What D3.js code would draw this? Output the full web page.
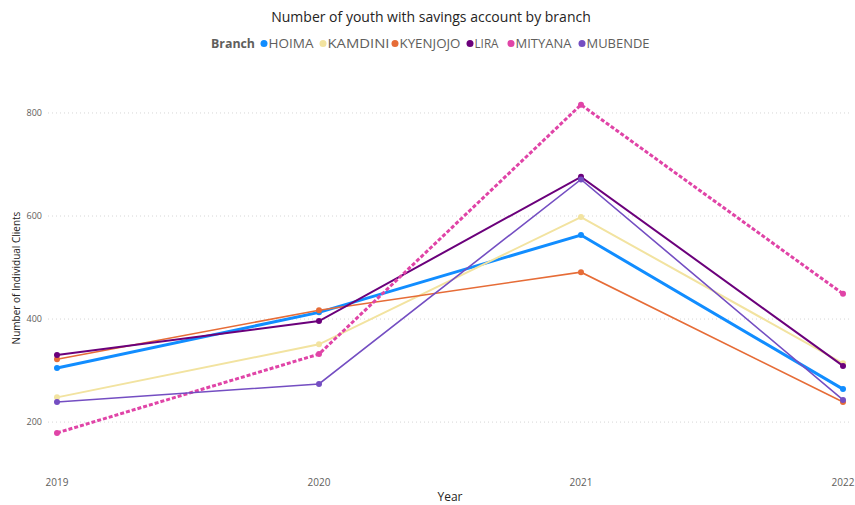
<!DOCTYPE html>
<html>
<head>
<meta charset="utf-8">
<script src="https://cdn.jsdelivr.net/npm/d3@7"></script>
<style>
  body { margin: 0; background: #fff; }
  text { font-family: "Open Sans", "Segoe UI", sans-serif; }
</style>
</head>
<body>
<svg id="chart" width="855" height="505"></svg>
<script>
var width = 855,
    height = 505;

// data
const years = [2019, 2020, 2021, 2022];
const branches = ["HOIMA", "KAMDINI", "KYENJOJO", "LIRA", "MITYANA", "MUBENDE"];
const hoima = [305, 413, 563, 264];
const kamdini = [248, 351, 598, 314];
const kyenjojo = [322, 417, 491, 239];
const lira = [330, 396, 676, 309];
const mityana = [179, 332, 816, 449];
const mubende = [239, 274, 671, 243];
const yTicks = [200, 400, 600, 800];

const colors = ["#118DFF", "#F2E3A0", "#E66C37", "#6B007B", "#E044A7", "#744EC2"];
const widths = [3, 2, 1.6, 2, 3, 1.6];

var series = [hoima, kamdini, kyenjojo, lira, mityana, mubende].map(function (vals, i) {
    return { name: branches[i], values: vals, color: colors[i], width: widths[i] };
});

var svg = d3.select("#chart");

var x = d3.scalePoint().domain(years).range([57, 843]);
var y = d3.scaleLinear().domain([107, 864]).range([470, 80]);

// title
svg.append("text")
    .attr("x", 431).attr("y", 22)
    .attr("text-anchor", "middle")
    .attr("font-size", 14)
    .attr("fill", "#252423")
    .text("Number of youth with savings account by branch");

// legend - dot positions / label widths measured on the reference
var legend = svg.append("g").attr("transform", "translate(0,48)");
legend.append("text")
    .attr("x", 211).attr("y", 0)
    .attr("font-size", 12.5)
    .attr("font-weight", "bold")
    .attr("fill", "#605E5C")
    .attr("textLength", 44)
    .attr("lengthAdjust", "spacingAndGlyphs")
    .text("Branch");
var dotX = [264, 323, 395, 470, 511, 582];
var itemW = [45, 62, 61, 24, 56, 63];
series.forEach(function (s, i) {
    legend.append("circle")
        .attr("cx", dotX[i]).attr("cy", -4.5).attr("r", 3.5)
        .attr("fill", s.color);
    legend.append("text")
        .attr("x", dotX[i] + 4.5).attr("y", 0)
        .attr("font-size", 12.5)
        .attr("fill", "#605E5C")
        .attr("textLength", itemW[i])
        .attr("lengthAdjust", "spacingAndGlyphs")
        .text(s.name);
});

// gridlines + y ticks
var grid = svg.append("g");
yTicks.forEach(function (t) {
    grid.append("line")
        .attr("x1", 48).attr("x2", 852)
        .attr("y1", y(t)).attr("y2", y(t))
        .attr("stroke", "#d6d6d6")
        .attr("stroke-width", 1)
        .attr("stroke-dasharray", "1,3");
    grid.append("text")
        .attr("x", 42).attr("y", y(t) + 3)
        .attr("text-anchor", "end")
        .attr("font-size", 9)
        .attr("fill", "#605E5C")
        .text(t);
});

// x tick labels
years.forEach(function (yr) {
    svg.append("text")
        .attr("x", x(yr)).attr("y", 486)
        .attr("text-anchor", "middle")
        .attr("font-size", 10)
        .attr("fill", "#605E5C")
        .text(yr);
});

// axis titles
svg.append("text")
    .attr("x", 450).attr("y", 501)
    .attr("text-anchor", "middle")
    .attr("font-size", 12)
    .attr("fill", "#252423")
    .text("Year");
svg.append("text")
    .attr("transform", "translate(20,278) rotate(-90)")
    .attr("text-anchor", "middle")
    .attr("font-size", 10)
    .attr("fill", "#252423")
    .text("Number of Individual Clients");

// lines
var line = d3.line()
    .x(function (d, i) { return x(years[i]); })
    .y(function (d) { return y(d); });

var lines = svg.append("g");
series.forEach(function (s) {
    lines.append("path")
        .attr("d", line(s.values))
        .attr("fill", "none")
        .attr("stroke", s.color)
        .attr("stroke-width", s.width)
        .attr("stroke-dasharray", s.name == "MITYANA" ? "4,2" : null);
    lines.selectAll(null)
        .data(s.values)
        .join("circle")
        .attr("cx", function (d, i) { return x(years[i]); })
        .attr("cy", function (d) { return y(d); })
        .attr("r", 3)
        .attr("fill", s.color);
});
</script>
</body>
</html>
